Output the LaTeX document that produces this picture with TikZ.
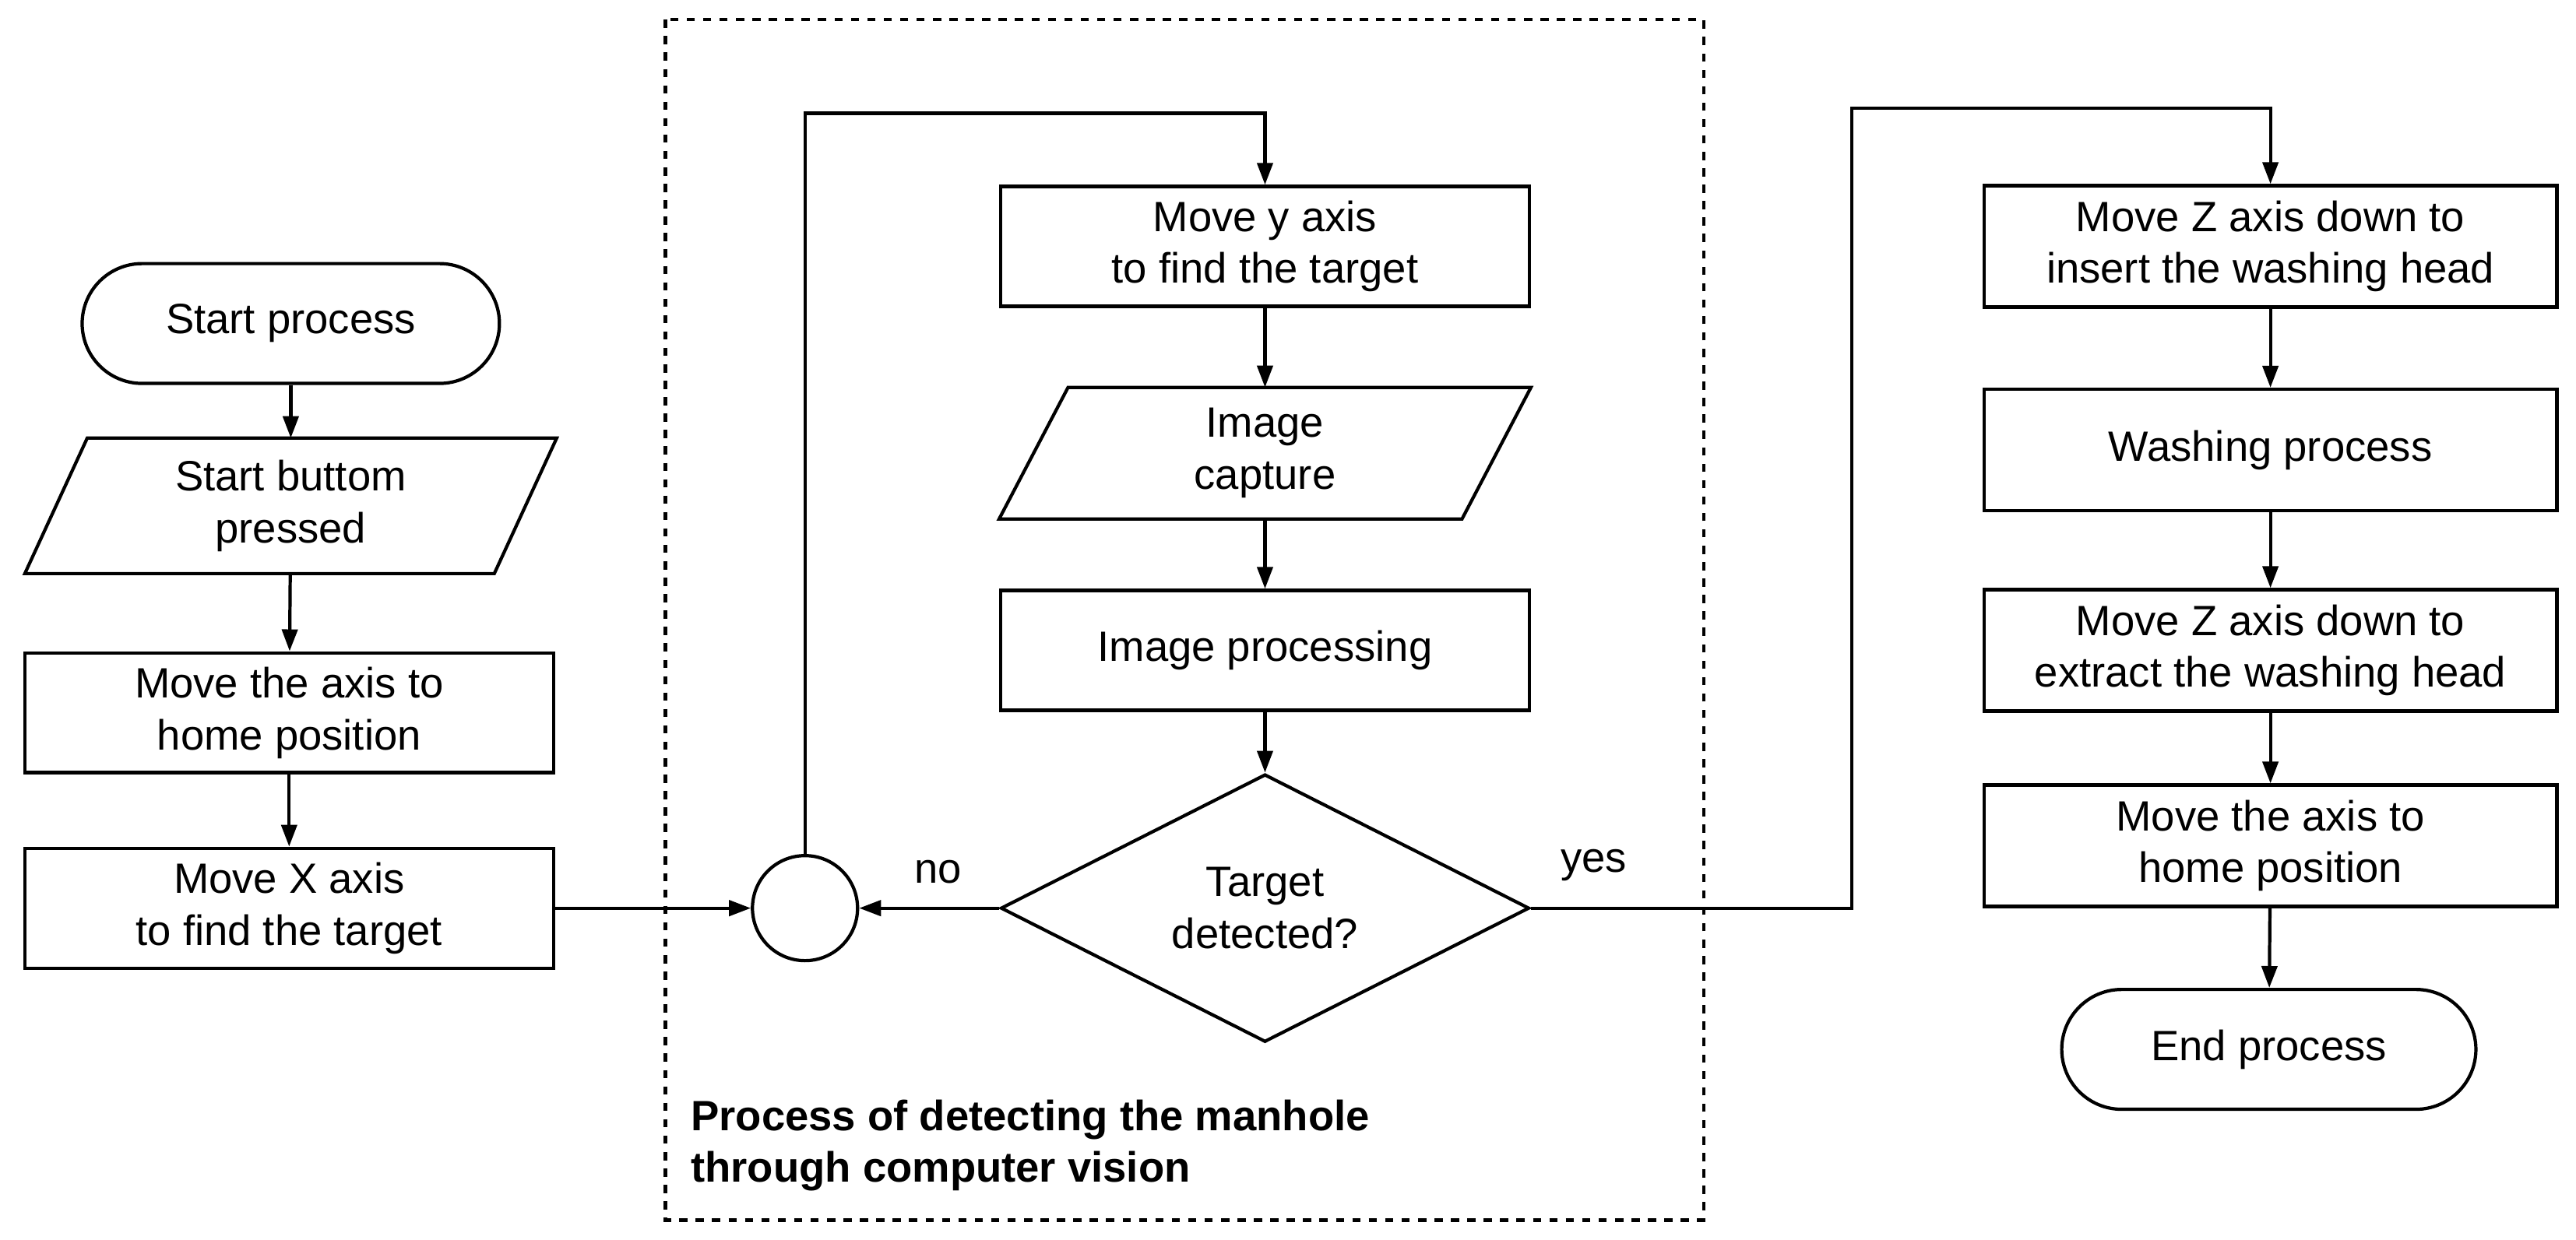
\documentclass[tikz,border=0pt]{standalone}
\usepackage{fontspec}
\setmainfont{Liberation Sans}
\usetikzlibrary{arrows.meta,shapes.geometric,calc}
\begin{document}
\begin{tikzpicture}[x=0.0211cm,y=-0.0211cm,line width=1.2pt,
  every node/.style={font=\fontsize{15.5}{19}\selectfont,align=center},
  box/.style={draw,minimum width=6.79cm,minimum height=1.54cm,inner sep=0pt},
  rbox/.style={draw,minimum width=7.36cm,minimum height=1.56cm,inner sep=0pt},
  term/.style={draw,rounded corners=0.77cm,minimum width=5.36cm,minimum height=1.54cm},
  pbox/.style={minimum width=6.79cm,minimum height=1.7cm,inner sep=0pt},
  arr/.style={-{Triangle[length=0.28cm,width=0.2cm]}}]
\useasboundingbox (0,0) rectangle (1568,755);
\draw[dashed] (405,12) rectangle (1037,743);
\node[term] (start) at (177,197) {Start process};
\node[pbox] (sb) at (177,308) {Start buttom\\pressed};
\draw ($(sb.north west)+(38,0)$) -- (sb.north east) -- ($(sb.south east)+(-38,0)$) -- (sb.south west) -- cycle;
\node[box] (home1) at (176,434) {Move the axis to\\home position};
\node[box] (mx) at (176,553) {Move X axis\\to find the target};
\node[draw,circle,minimum size=1.35cm,inner sep=0pt] (c) at (490,553) {};
\node[box] (my) at (770,150) {Move y axis\\to find the target};
\node[pbox,minimum height=1.65cm] (ic) at (770,276) {Image\\capture};
\draw ($(ic.north west)+(42,0)$) -- (ic.north east) -- ($(ic.south east)+(-42,0)$) -- (ic.south west) -- cycle;
\node[box] (ip) at (770,396) {Image processing};
\node[draw,diamond,minimum width=6.79cm,minimum height=3.17cm,inner sep=0pt] (d) at (770,553) {Target\\detected?};
\node (no) at (571,531) {no};
\node (yes) at (970,527) {yes};
\node[rbox] (z1) at (1382,150) {Move Z axis down to\\insert the washing head};
\node[rbox] (wp) at (1382,274) {Washing process};
\node[rbox] (z2) at (1382,396) {Move Z axis down to\\extract the washing head};
\node[rbox] (home2) at (1382,515) {Move the axis to\\home position};
\node[term,minimum width=5.32cm] (end) at (1381,639) {End process};
\node[anchor=north west,font=\fontsize{15.5}{19}\selectfont\bfseries,align=left] (cap) at (414,663) {Process of detecting the manhole\\through computer vision};
\draw[arr] (start) -- (sb);
\draw[arr] (sb) -- (home1);
\draw[arr] (home1) -- (mx);
\draw[arr] (mx) -- (c);
\draw[arr] (c.north) |- (630,69) -| (my.north);
\draw[arr] (my) -- (ic);
\draw[arr] (ic) -- (ip);
\draw[arr] (ip) -- (d);
\draw[arr] (d.west) -- (c.east);
\coordinate (j) at (1127,66);
\draw[arr] (d.east) -| (j) -| (z1.north);
\draw[arr] (z1) -- (wp);
\draw[arr] (wp) -- (z2);
\draw[arr] (z2) -- (home2);
\draw[arr] (home2) -- (end);
\end{tikzpicture}
\end{document}
